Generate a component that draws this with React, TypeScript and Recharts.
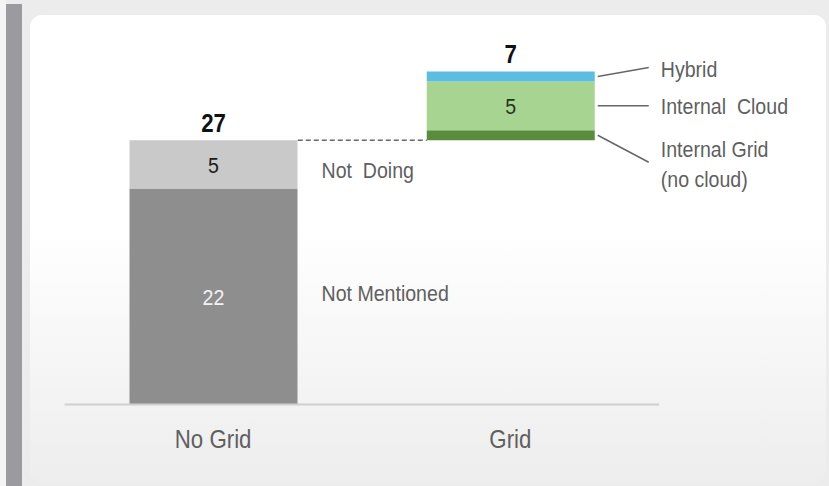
import { Bar, BarChart, LabelList, XAxis, YAxis } from 'recharts'

const categories = ['No Grid', 'Grid']
const baseValues = [0, 27]
const notMentioned = [22, 0]
const notDoing = [5, 0]
const internalGrid = [0, 1]
const internalCloud = [0, 5]
const hybrid = [0, 1]
const totals = [27, 7]

const data = categories.map((name, i) => ({
  name,
  base: baseValues[i],
  notMentioned: notMentioned[i],
  notDoing: notDoing[i],
  internalGrid: internalGrid[i],
  internalCloud: internalCloud[i],
  hybrid: hybrid[i],
  total: totals[i],
}))

const font = '"Liberation Sans", Arial, sans-serif'
const labelColor = '#5f5f5f'
const barSize = 168
const bandGap = 129
const squeeze = 0.89

// condensed text: Liberation Sans squeezed horizontally
function T({ x, y, size, fill, anchor = 'start', bold = false, children }: any) {
  return (
    <text transform={`translate(${x},${y}) scale(${squeeze},1)`} textAnchor={anchor} dominantBaseline='central'
      fontFamily={font} fontSize={size} fontWeight={bold ? 'bold' : 'normal'} fill={fill}
      style={{ whiteSpace: 'pre' }}>
      {children}
    </text>
  )
}

function CenterValue({ x, y, width, height, value, fill }: any) {
  if (!value) return null
  return <T x={x + width / 2} y={y + height / 2} size={22} fill={fill} anchor='middle'>{value}</T>
}

// total above the top segment of each column
function TotalLabel({ x, y, width, height, value }: any) {
  if (!value || !height) return null
  return <T x={x + width / 2} y={y - 17} size={25} fill='#111' anchor='middle' bold>{value}</T>
}

// series names beside the No Grid column
const sideLabel = (text: string, dy: number) => ({ x, y, width, height, value }: any) => {
  if (!value) return null
  return <T x={x + width + 24} y={y + height / 2 + dy} size={22} fill={labelColor}>{text}</T>
}

// series names with leader lines beside the Grid column
const leaderLabel = (lines: string[], lineDy: number, textDy: number) => ({ x, y, width, height, value }: any) => {
  if (!value) return null
  const cy = y + height / 2
  const x0 = x + width + 3
  return (
    <g>
      <line x1={x0} y1={cy} x2={x0 + 51} y2={cy + lineDy} stroke='#666' strokeWidth={1.5} />
      {lines.map((t, i) => (
        <T key={t} x={x0 + 63} y={cy + textDy + i * 30} size={22} fill={labelColor}>{t}</T>
      ))}
    </g>
  )
}

function BaseShape({ x, y, value }: any) {
  const v = Array.isArray(value) ? value[1] - value[0] : value
  if (!v) return null
  return <line x1={x - bandGap} y1={y} x2={x} y2={y} stroke='#666' strokeWidth={1.5} strokeDasharray='5 3' />
}

function Tick({ x, y, payload }: any) {
  return <T x={x} y={y + 27} size={25} fill={labelColor} anchor='middle'>{payload.value}</T>
}

export default function App() {
  return (
    <div style={{ position: 'absolute', left: 0, top: 0, width: 829, height: 486, background: '#ececec', overflow: 'hidden' }}>
      <div style={{ position: 'absolute', left: 0, top: 0, width: 6, height: 486, background: '#f4f4f4' }} />
      <div style={{ position: 'absolute', left: 6, top: 4, width: 16, height: 482, background: '#9a9a9f' }} />
      <div style={{
        position: 'absolute', left: 30, top: 15, width: 796, height: 468, borderRadius: 12,
        background: 'linear-gradient(#ffffff 0%, #ffffff 45%, #ededed 100%)',
      }} />
      <div style={{ position: 'absolute', left: 0, top: 0 }}>
        <BarChart width={829} height={486} data={data} barSize={barSize}
          margin={{ top: 52, right: 170, left: 64.5, bottom: 21.5 }}>
          <XAxis dataKey='name' height={60} tickLine={false} tick={<Tick />}
            axisLine={{ stroke: '#cfcfcf', strokeWidth: 2 }} />
          <YAxis hide type='number' domain={[0, 36]} />
          <Bar dataKey='base' stackId='a' fill='transparent' shape={<BaseShape />} isAnimationActive={false} />
          <Bar dataKey='notMentioned' stackId='a' fill='#8e8e8e' isAnimationActive={false}>
            <LabelList dataKey='notMentioned' content={(p: any) => <CenterValue {...p} fill='#f2f2f2' />} />
            <LabelList dataKey='notMentioned' content={sideLabel('Not Mentioned', -4)} />
          </Bar>
          <Bar dataKey='notDoing' stackId='a' fill='#c9c9c9' isAnimationActive={false}>
            <LabelList dataKey='notDoing' content={(p: any) => <CenterValue {...p} fill='#1a1a1a' />} />
            <LabelList dataKey='notDoing' content={sideLabel('Not  Doing', 5)} />
            <LabelList dataKey='total' content={<TotalLabel />} />
          </Bar>
          <Bar dataKey='internalGrid' stackId='a' fill='#5a8d3b' isAnimationActive={false}>
            <LabelList dataKey='internalGrid' content={leaderLabel(['Internal Grid', '(no cloud)'], 27, 14)} />
          </Bar>
          <Bar dataKey='internalCloud' stackId='a' fill='#a7d490' isAnimationActive={false}>
            <LabelList dataKey='internalCloud' content={(p: any) => <CenterValue {...p} fill='#1e3a1a' />} />
            <LabelList dataKey='internalCloud' content={leaderLabel(['Internal  Cloud'], 0, 0)} />
          </Bar>
          <Bar dataKey='hybrid' stackId='a' fill='#5bbde0' isAnimationActive={false}>
            <LabelList dataKey='hybrid' content={leaderLabel(['Hybrid'], -9, -7)} />
            <LabelList dataKey='total' content={<TotalLabel />} />
          </Bar>
        </BarChart>
      </div>
    </div>
  )
}
